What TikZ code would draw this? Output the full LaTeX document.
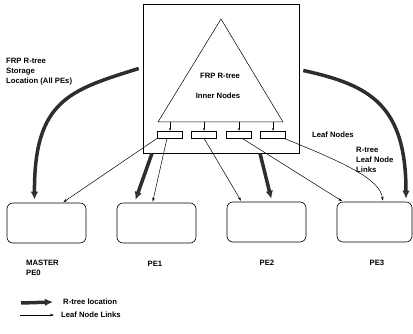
\documentclass[tikz,border=0pt]{standalone}
\usepackage{fontspec}
\setmainfont{Liberation Sans}
\usetikzlibrary{arrows.meta, positioning}
\definecolor{inkgray}{RGB}{45,45,45}
\definecolor{headgray}{RGB}{100,100,100}

\begin{document}
\begin{tikzpicture}[x=1pt, y=-1pt, font=\fontsize{7.7}{10}\selectfont\bfseries,
    pebox/.style={draw, line width=0.6pt, rounded corners=6pt, minimum width=79pt, minimum height=40pt},
    leafbox/.style={draw, line width=0.5pt, minimum width=25pt, minimum height=7pt, inner sep=0pt},
    lbl/.style={align=left, inner sep=0pt},
    locarrow/.style={-{Latex[length=8pt,width=7.5pt,fill=headgray]}, line width=3.5pt, draw=inkgray, shorten >=3pt},
    linkarrow/.style={-{Stealth[length=4pt,width=2.5pt]}, line width=0.5pt, shorten >=1pt},
    tinyarrow/.style={-{Stealth[length=2.5pt,width=2pt]}, line width=0.4pt}]
    \useasboundingbox (0,0) rectangle (413,334);

    % storage box with the R-tree
    \node[draw, line width=0.6pt, minimum width=156pt, minimum height=149pt, inner sep=0pt] (store) at (221,78.5) {};
    \coordinate (apex) at (221,19);
    \coordinate (baseL) at (158,122);
    \coordinate (baseR) at (283,122);
    \draw[line width=0.5pt] (apex) -- (baseR) -- (baseL) -- cycle;
    \node (frp) at (220,76) {FRP R-tree};
    \node (inner) at (218,96) {Inner Nodes};

    % leaf nodes
    \node[leafbox] (leaf1) at (170,134.5) {};
    \node[leafbox] (leaf2) at (204,134.5) {};
    \node[leafbox] (leaf3) at (239,134.5) {};
    \node[leafbox] (leaf4) at (273,134.5) {};
    \draw[tinyarrow] (leaf1 |- baseL) -- (leaf1.north);
    \draw[tinyarrow] (leaf2 |- baseL) -- (leaf2.north);
    \draw[tinyarrow] (leaf3 |- baseL) -- (leaf3.north);
    \draw[tinyarrow] (leaf4 |- baseL) -- (leaf4.north);

    \node[lbl, anchor=west] (leaflbl) at (312,135) {Leaf Nodes};
    \node[lbl, anchor=west] (linklbl) at (356,160) {R-tree\\Leaf Node\\Links};
    \node[lbl, anchor=west] (storelbl) at (6,72) {FRP R-tree\\Storage\\Location (All PEs)};

    % processing elements
    \node[pebox] (pe0) at (46.5,223) {};
    \node[pebox] (pe1) at (156.5,223) {};
    \node[pebox] (pe2) at (266.5,222) {};
    \node[pebox, minimum width=75pt] (pe3) at (374.5,222) {};
    \node[lbl, anchor=north west] (pe0lbl) at (26,260) {MASTER\\PE0};
    \node[lbl] (pe1lbl) at (155,264) {PE1};
    \node[lbl] (pe2lbl) at (267,263) {PE2};
    \node[lbl] (pe3lbl) at (377,263) {PE3};

    % R-tree location
    \draw[locarrow] ([xshift=-4pt,yshift=10pt]store.west) .. controls (70,90) and (34,100) .. ([xshift=-12pt]pe0.north);
    \draw[locarrow] ([xshift=-69pt]store.south) -- ([xshift=-22pt]pe1.north);
    \draw[locarrow] ([xshift=39pt]store.south) -- ([xshift=5.5pt]pe2.north);
    \draw[locarrow] ([xshift=4pt,yshift=8pt]store.east) .. controls (370,85) and (406,105) .. ([xshift=31.5pt]pe3.north);

    % leaf node links
    \draw[linkarrow] (leaf1.south west) -- ([xshift=16pt]pe0.north);
    \draw[linkarrow] ([xshift=-3pt]leaf1.south) -- ([xshift=-4pt]pe1.north);
    \draw[linkarrow] (leaf2.south) -- ([xshift=-25pt]pe2.north);
    \draw[linkarrow] ([xshift=3pt]leaf3.south) -- ([xshift=-31.5pt]pe3.north);
    \draw[linkarrow] ([xshift=-2pt]leaf4.south east) .. controls (350,165) and (380,180) .. ([xshift=8.5pt]pe3.north);

    % legend
    \node[lbl, anchor=west] (legloc) at (63,302) {R-tree location};
    \node[lbl, anchor=west] (leglink) at (61,315) {Leaf Node Links};
    \coordinate (legA) at (21,303);
    \coordinate (legB) at (20,315);
    \draw[locarrow, shorten >=0pt] (legA) -- ([xshift=-10pt]legloc.west);
    \draw[linkarrow] (legB) -- ([xshift=-6pt]leglink.west);
\end{tikzpicture}
\end{document}
